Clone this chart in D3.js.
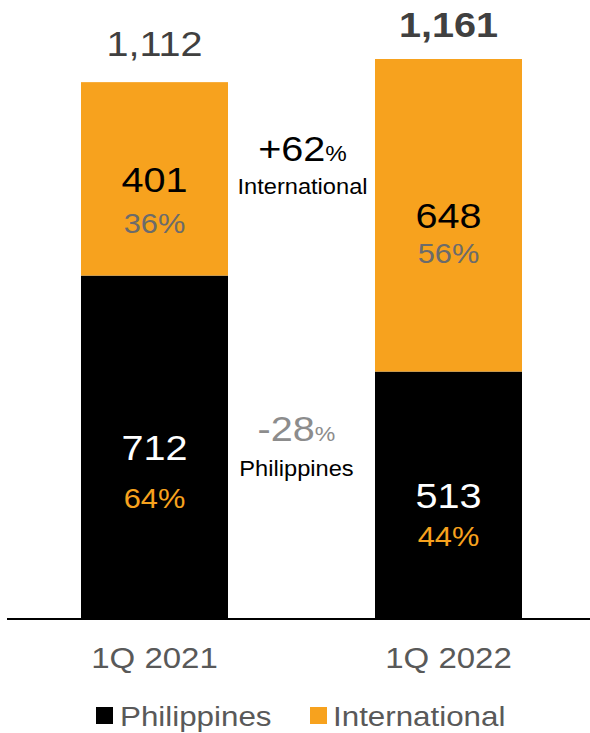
<!DOCTYPE html>
<html>
<head>
<meta charset="utf-8">
<script src="https://cdn.jsdelivr.net/npm/d3@7"></script>
<style>
  html, body { margin: 0; padding: 0; background: #fff; }
  svg { display: block; font-family: "Liberation Sans", Arial, Helvetica, sans-serif; }
</style>
</head>
<body>
<svg id="chart" width="590" height="733"></svg>
<script>
// Quarterly volumes split by market
const categories = ["1Q 2021", "1Q 2022"];
const philippines = [712, 513];
const international = [401, 648];
const totals = [1112, 1161];
const philippinesShare = ["64", "44"];
const internationalShare = ["36", "56"];
const seriesNames = ["Philippines", "International"];
const growthLabels = [
  { series: "International", change: "+62" },
  { series: "Philippines", change: "-28" }
];

const W = 590, H = 733;
const ORANGE = "#F7A21E";
const BLACK = "#000000";
const STRETCH = 1.1; // slightly widened lettering

const svg = d3.select("#chart");

const x = d3.scaleBand()
  .domain(categories)
  .range([7.5, 595.5])
  .paddingInner(0.5)
  .paddingOuter(0.25);

const y = d3.scaleLinear()
  .domain([0, 1161])
  .range([619, 59]);

const rows = categories.map((c, i) => ({
  cat: c,
  Philippines: philippines[i],
  International: international[i]
}));

const stack = d3.stack().keys(seriesNames)(rows);
const colors = { Philippines: BLACK, International: ORANGE };

// helper: text placed at (px, py) with a horizontal stretch
function label(g, px, py, size, fill, weight) {
  return g.append("text")
    .attr("transform", `translate(${px},${py}) scale(${STRETCH},1)`)
    .attr("text-anchor", "middle")
    .attr("font-size", size)
    .attr("font-weight", weight || "normal")
    .attr("fill", fill);
}

// stacked bars
svg.append("g").selectAll("g")
  .data(stack)
  .join("g")
  .attr("fill", d => colors[d.key])
  .selectAll("rect")
  .data(d => d)
  .join("rect")
  .attr("x", d => x(d.data.cat))
  .attr("width", x.bandwidth())
  .attr("y", d => y(d[1]))
  .attr("height", d => y(d[0]) - y(d[1]));

// baseline axis
const xAxis = d3.axisBottom(x).tickSize(0).tickPadding(0);
const axisG = svg.append("g")
  .attr("transform", `translate(0,${y(0)})`)
  .call(xAxis);
axisG.select(".domain")
  .attr("d", `M7,0H590`)
  .attr("stroke", "#000")
  .attr("stroke-width", 2);
axisG.selectAll(".tick text").remove();
categories.forEach(c => {
  label(svg, x(c) + x.bandwidth() / 2, 668, 30, "#595959").text(c);
});

const labelsG = svg.append("g");

// totals above bars
const totalOffsets = [27, 22];
const totalWeights = ["normal", "bold"];
categories.forEach((c, i) => {
  label(labelsG, x(c) + x.bandwidth() / 2, y(totals[i]) - totalOffsets[i], 36,
        "#404040", totalWeights[i])
    .text(d3.format(",")(totals[i]));
});

// values and shares inside segments
const shareGap = { Philippines: [48, 38], International: [41, 35] };
stack.forEach(s => {
  s.forEach((d, i) => {
    const cx = x(d.data.cat) + x.bandwidth() / 2;
    const mid = (y(d[0]) + y(d[1])) / 2;
    const isPh = s.key === "Philippines";
    const val = d[1] - d[0];
    label(labelsG, cx, mid + 13, 36, isPh ? "#ffffff" : "#000000").text(val);
    const share = isPh ? philippinesShare[i] : internationalShare[i];
    label(labelsG, cx, mid + 13 + shareGap[s.key][i], 28, isPh ? ORANGE : "#6b6b6b")
      .text(share + "%");
  });
});

// growth annotations between the bars
const midX = (x(categories[0]) + x.bandwidth() + x(categories[1])) / 2;
const growthPos = [
  { dx: 1, top: 161, bottom: 194, color: "#000000", pct: 22 },
  { dx: -5, top: 441, bottom: 476, color: "#8c8c8c", pct: 21 }
];
growthLabels.forEach((g, i) => {
  const p = growthPos[i];
  const t = label(labelsG, midX + p.dx, p.top, 36, p.color);
  t.append("tspan").text(g.change);
  t.append("tspan").attr("font-size", p.pct).text("%");
  label(labelsG, midX + p.dx, p.bottom, 21.5, "#000000").text(g.series);
});

// legend
const legend = svg.append("g");
const legendItems = [
  { key: "Philippines", sx: 96, tx: 120 },
  { key: "International", sx: 310, tx: 333 }
];
legendItems.forEach(it => {
  legend.append("rect")
    .attr("x", it.sx).attr("y", 707)
    .attr("width", 17).attr("height", 17)
    .attr("fill", colors[it.key]);
  legend.append("text")
    .attr("transform", `translate(${it.tx},726) scale(${STRETCH},1)`)
    .attr("font-size", 28.5)
    .attr("fill", "#595959")
    .text(it.key);
});
</script>
</body>
</html>
